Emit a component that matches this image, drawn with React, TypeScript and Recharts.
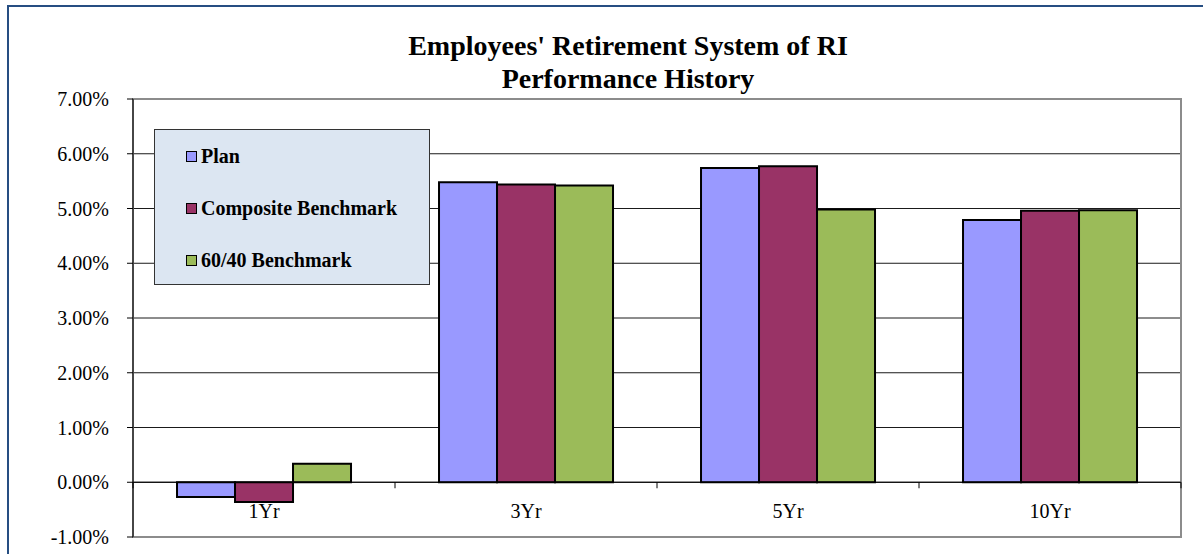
import React from "react";
import { BarChart, Bar, XAxis, YAxis, CartesianGrid, Legend, ReferenceLine, ReferenceArea } from "recharts";

// values in percent
const categories = ["1Yr", "3Yr", "5Yr", "10Yr"];
const plan = [-0.27, 5.48, 5.74, 4.79];
const composite = [-0.36, 5.44, 5.77, 4.96];
const benchmark6040 = [0.34, 5.42, 4.98, 4.97];
const yTicks = [-1, 0, 1, 2, 3, 4, 5, 6, 7];
const seriesNames = ["Plan", "Composite Benchmark", "60/40 Benchmark"];

const data = categories.map((name, i) => ({
  name,
  plan: plan[i],
  composite: composite[i],
  b6040: benchmark6040[i],
}));

const W = 1203;
const H = 554;
const MARGIN = { top: 99, right: 22, bottom: 0, left: 33 };
const Y_AXIS_W = 100;
const X_AXIS_H = 17;
const PLOT_W = W - MARGIN.left - MARGIN.right - Y_AXIS_W;
const PLOT_H = H - MARGIN.top - MARGIN.bottom - X_AXIS_H;
const Y_MIN = -1;
const Y_MAX = 7;
const FONT = '"Times New Roman", "Liberation Serif", serif';

function CategoryTick(props: any) {
  const { x, y, payload, index } = props;
  // the category axis crosses at zero, not at the bottom of the plot
  const zeroY = y - (PLOT_H * (0 - Y_MIN)) / (Y_MAX - Y_MIN);
  const band = PLOT_W / categories.length;
  return (
    <g>
      <line x1={x - band / 2} x2={x - band / 2} y1={zeroY} y2={zeroY + 6} stroke="#000" />
      {index === categories.length - 1 && (
        <line x1={x + band / 2} x2={x + band / 2} y1={zeroY} y2={zeroY + 6} stroke="#000" />
      )}
      <text x={x} y={zeroY + 36} textAnchor="middle" fill="#000" fontSize={20} fontFamily={FONT}>
        {payload.value}
      </text>
    </g>
  );
}

function LegendBox(props: any) {
  const items = [...(props.payload || [])].sort(
    (a: any, b: any) => seriesNames.indexOf(a.value) - seriesNames.indexOf(b.value)
  );
  return (
    <div
      style={{
        width: 276,
        height: 156,
        boxSizing: "border-box",
        background: "#dce6f2",
        border: "1px solid #333",
        fontFamily: FONT,
        fontWeight: "bold",
        fontSize: 20,
        color: "#000",
      }}
    >
      {items.map((it: any) => (
        <div key={it.value} style={{ height: 52, display: "flex", alignItems: "center", paddingLeft: 31 }}>
          <span
            style={{
              display: "inline-block",
              width: 9,
              height: 9,
              background: it.color,
              border: "1px solid #000",
              marginRight: 4,
            }}
          />
          {it.value}
        </div>
      ))}
    </div>
  );
}

export default function App() {
  return (
    <div style={{ position: "absolute", left: 0, top: 0, width: W, height: H, overflow: "hidden", background: "#fff" }}>
      <div
        style={{
          position: "absolute",
          left: 7,
          top: 5,
          width: W,
          height: H,
          borderTop: "2px solid #264e82",
          borderLeft: "2px solid #264e82",
        }}
      />
      <div
        style={{
          position: "absolute",
          left: 328,
          top: 29,
          width: 600,
          textAlign: "center",
          fontFamily: FONT,
          fontWeight: "bold",
          fontSize: 28,
          lineHeight: "33px",
          color: "#000",
        }}
      >
        <div style={{ whiteSpace: "nowrap" }}>Employees' Retirement System of RI</div>
        <div>Performance History</div>
      </div>
      <div style={{ position: "absolute", left: 0, top: 0 }}>
        <BarChart
          width={W}
          height={H}
          data={data}
          margin={MARGIN}
          barGap={0}
          barCategoryGap="16.8%"
          style={{ fontFamily: FONT }}
        >
          <CartesianGrid vertical={false} stroke="#1a1a1a" />
          <ReferenceArea y1={Y_MIN} y2={Y_MAX} fill="none" stroke="#8c8c8c" strokeWidth={2} />
          <XAxis
            dataKey="name"
            height={X_AXIS_H}
            axisLine={false}
            tickLine={false}
            tickSize={0}
            tickMargin={0}
            interval={0}
            tick={<CategoryTick />}
          />
          <YAxis
            width={Y_AXIS_W}
            domain={[Y_MIN, Y_MAX]}
            ticks={yTicks}
            tickFormatter={(v: number) => v.toFixed(2) + "%"}
            tick={{ fill: "#000", fontSize: 20, fontFamily: FONT }}
            axisLine={{ stroke: "#000" }}
            tickLine={{ stroke: "#000" }}
            tickSize={6}
            tickMargin={18}
            allowDataOverflow
          />
          <ReferenceLine y={0} stroke="#000" />
          <Legend
            layout="horizontal"
            verticalAlign="middle"
            align="center"
            content={<LegendBox />}
            wrapperStyle={{ left: 154, top: 129, width: 276, height: 156 }}
          />
          <Bar dataKey="plan" name={seriesNames[0]} fill="#9999ff" stroke="#000" strokeWidth={2} isAnimationActive={false} />
          <Bar dataKey="composite" name={seriesNames[1]} fill="#993366" stroke="#000" strokeWidth={2} isAnimationActive={false} />
          <Bar dataKey="b6040" name={seriesNames[2]} fill="#9bbb59" stroke="#000" strokeWidth={2} isAnimationActive={false} />
        </BarChart>
      </div>
    </div>
  );
}
